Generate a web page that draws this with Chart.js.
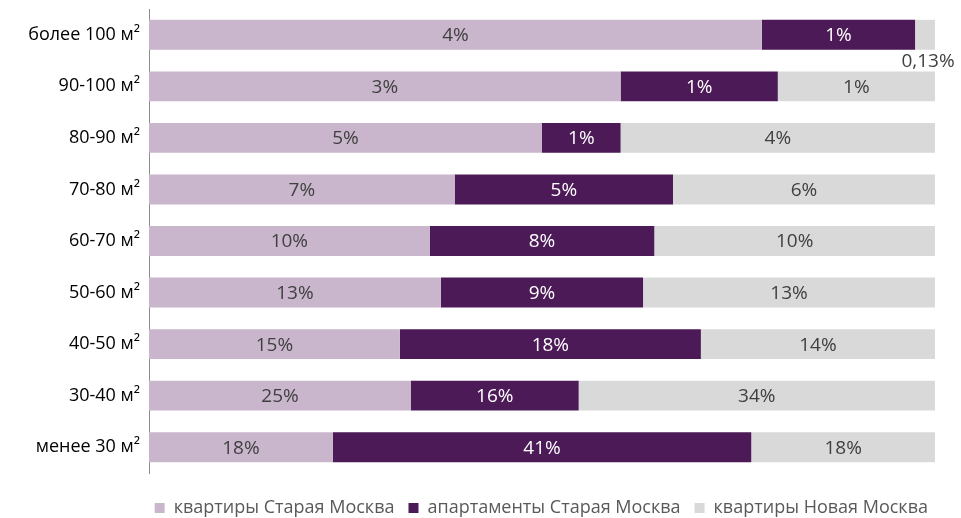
<!DOCTYPE html>
<html>
<head>
<meta charset="utf-8">
<script src="https://cdn.jsdelivr.net/npm/chart.js@4"></script>
<style>
  html, body { margin: 0; padding: 0; background: #fff; }
  #wrap { width: 961px; height: 518px; }
</style>
</head>
<body>
<div id="wrap"><canvas id="chart"></canvas></div>
<script>
const categories = ['более 100 м²', '90-100 м²', '80-90 м²', '70-80 м²', '60-70 м²', '50-60 м²', '40-50 м²', '30-40 м²', 'менее 30 м²'];
const seriesNames = ['квартиры Старая Москва', 'апартаменты Старая Москва', 'квартиры Новая Москва'];
const oldFlats = [4, 3, 5, 7, 10, 13, 15, 25, 18];
const oldApartments = [1, 1, 1, 5, 8, 9, 18, 16, 41];
const newFlats = [0.13, 1, 4, 6, 10, 13, 14, 34, 18];
const colors = ['#c9b6cc', '#4b1a57', '#d9d9d9'];
const labelColors = ['#404040', '#ffffff', '#404040'];

const FONT = '"Open Sans", "Noto Sans", sans-serif';
const raw = [oldFlats, oldApartments, newFlats];

// ширина сегмента = доля в строке (100% stacked)
const totals = categories.map((c, i) => raw.reduce((s, arr) => s + arr[i], 0));
const datasets = raw.map((arr, k) => ({
  label: seriesNames[k],
  data: arr.map((v, i) => v / totals[i]),
  rawValues: arr,
  backgroundColor: colors[k],
  borderWidth: 0,
  barPercentage: 0.58,
  categoryPercentage: 1
}));

function fmt(v) {
  return String(v).replace('.', ',') + '%';
}

const valueLabels = {
  id: 'valueLabels',
  afterDatasetsDraw(chart) {
    const ctx = chart.ctx;
    ctx.save();
    ctx.font = '19px ' + FONT;
    ctx.textAlign = 'center';
    ctx.textBaseline = 'middle';
    chart.data.datasets.forEach((ds, k) => {
      chart.getDatasetMeta(k).data.forEach((bar, i) => {
        const text = fmt(ds.rawValues[i]);
        const w = Math.abs(bar.x - bar.base);
        const cx = (bar.x + bar.base) / 2;
        if (ctx.measureText(text).width + 4 > w) {
          // не помещается — подпись под сегментом
          ctx.fillStyle = '#404040';
          ctx.fillText(text, cx + 3, bar.y + bar.height / 2 + 12);
        } else {
          ctx.fillStyle = labelColors[k];
          ctx.fillText(text, cx, bar.y + 1);
        }
      });
    });
    ctx.restore();
  }
};

// сдвиг легенды вправо, как в оригинале
const legendShift = {
  id: 'legendShift',
  afterLayout(chart) {
    chart.legend.left += 7;
    chart.legend.right += 7;
  }
};

new Chart(document.getElementById('chart'), {
  type: 'bar',
  data: { labels: categories, datasets: datasets },
  options: {
    indexAxis: 'y',
    responsive: true,
    maintainAspectRatio: false,
    animation: false,
    layout: { padding: { top: 9, right: 26, bottom: -9, left: 0 } },
    scales: {
      x: {
        stacked: true,
        min: 0,
        max: 1,
        grid: { display: false },
        border: { display: false },
        ticks: { display: false },
        afterFit: s => { s.height = 12; }
      },
      y: {
        stacked: true,
        afterFit: s => { s.width = 149; s.paddingTop = 0; s.paddingBottom = 0; },
        grid: { drawOnChartArea: false, drawTicks: false },
        border: { display: true, color: '#8c8c8c', width: 1 },
        ticks: { color: '#000', padding: 9, font: { family: FONT, size: 18 } }
      }
    },
    plugins: {
      legend: {
        position: 'bottom',
        align: 'end',
        labels: {
          boxWidth: 10,
          boxHeight: 10,
          padding: 14,
          color: '#595959',
          font: { family: FONT, size: 18 }
        }
      },
      tooltip: { enabled: false }
    }
  },
  plugins: [valueLabels, legendShift]
});
</script>
</body>
</html>
